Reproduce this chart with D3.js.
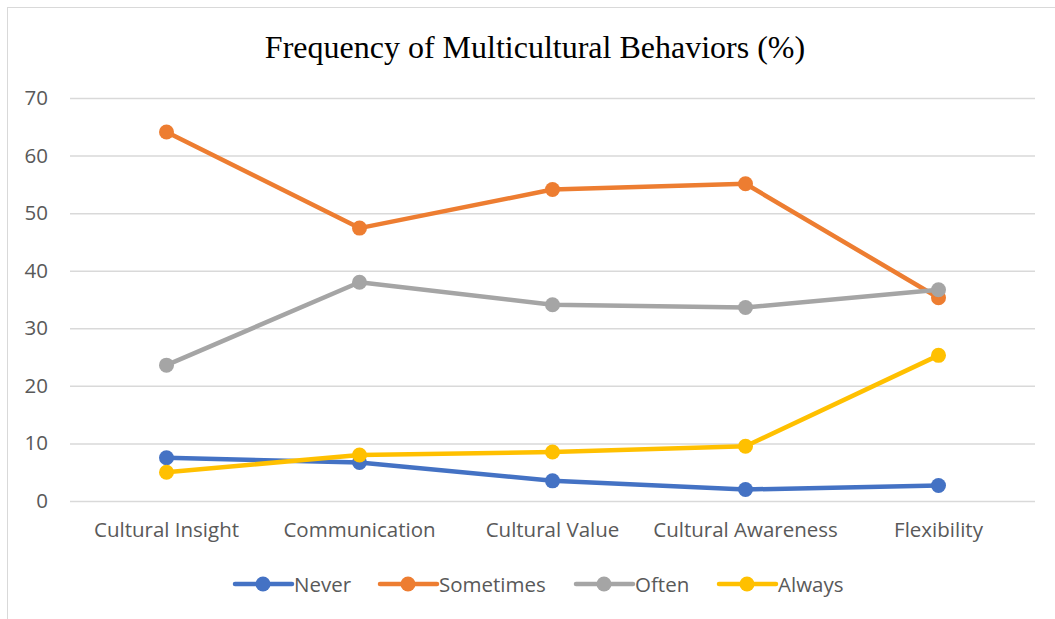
<!DOCTYPE html>
<html><head><meta charset="utf-8">
<script src="https://cdn.jsdelivr.net/npm/d3@7"></script>
<style>body{margin:0;background:#fff}svg{display:block}</style>
</head><body>
<svg id="c" width="1055" height="619"></svg>
<script>
const categories = ["Cultural Insight","Communication","Cultural Value","Cultural Awareness","Flexibility"];
const seriesNames = ["Never","Sometimes","Often","Always"];
const never = [7.5, 6.7, 3.5, 2.0, 2.7];
const sometimes = [64.1, 47.4, 54.1, 55.1, 35.3];
const often = [23.6, 38.0, 34.1, 33.6, 36.7];
const always = [5.0, 8.0, 8.5, 9.5, 25.3];
const yTicks = [0,10,20,30,40,50,60,70];
const colors = ["#4472C4","#ED7D31","#A5A5A5","#FFC000"];

(function(){
const seriesData = [never, sometimes, often, always];
const svg = d3.select("#c");
const W=1055,H=619;
const FONT="'Open Sans','Noto Sans',sans-serif", FS=20.5;
svg.append("rect").attr("x",7.5).attr("y",7.5).attr("width",W+10).attr("height",H+10)
  .attr("fill","#fff").attr("stroke","#d9d9d9").attr("stroke-width",1);

const pL=70,pR=1035,pT=98,pB=501;
const x = d3.scaleBand().domain(categories).range([pL,pR]);
const y = d3.scaleLinear().domain([0,70]).range([pB,pT]);

svg.append("text").attr("x",535).attr("y",58).attr("text-anchor","middle")
  .attr("font-family","'Liberation Serif','Times New Roman',serif").attr("font-size",32)
  .attr("fill","#000").text("Frequency of Multicultural Behaviors (%)");

const gy = svg.append("g").attr("transform",`translate(${pL},0)`)
  .call(d3.axisLeft(y).tickValues(yTicks).tickSize(-(pR-pL)).tickPadding(22));
gy.select(".domain").remove();
gy.selectAll(".tick line").attr("stroke","#d9d9d9").attr("stroke-width",1.5);
gy.selectAll(".tick text").attr("font-family",FONT).attr("font-size",FS).attr("fill","#595959");

const gx = svg.append("g").attr("transform",`translate(0,${pB})`)
  .call(d3.axisBottom(x).tickSize(0).tickPadding(21));
gx.select(".domain").remove();
gx.selectAll(".tick text").attr("font-family",FONT).attr("font-size",FS).attr("fill","#595959");

const line = d3.line().x((d,i)=>x(categories[i])+x.bandwidth()/2).y(d=>y(d));
seriesData.forEach((s,k)=>{
  const g = svg.append("g");
  g.append("path").datum(s).attr("d",line).attr("fill","none").attr("stroke",colors[k])
    .attr("stroke-width",4.5).attr("stroke-linejoin","round").attr("stroke-linecap","round");
  g.selectAll("circle").data(s).join("circle")
    .attr("cx",(d,i)=>x(categories[i])+x.bandwidth()/2).attr("cy",d=>y(d)).attr("r",7.5)
    .attr("fill",colors[k]);
});

const legX=[235,380,576,719];
const lg = svg.append("g");
seriesNames.forEach((n,k)=>{
  const gx0=legX[k], ly=584;
  lg.append("line").attr("x1",gx0).attr("x2",gx0+57).attr("y1",ly).attr("y2",ly)
    .attr("stroke",colors[k]).attr("stroke-width",4.5).attr("stroke-linecap","round");
  lg.append("circle").attr("cx",gx0+28).attr("cy",ly).attr("r",7.5).attr("fill",colors[k]);
  lg.append("text").attr("x",gx0+59).attr("y",ly+7.5)
    .attr("font-family",FONT).attr("font-size",FS)
    .attr("fill","#595959").text(n);
});
})();
</script>
</body></html>
